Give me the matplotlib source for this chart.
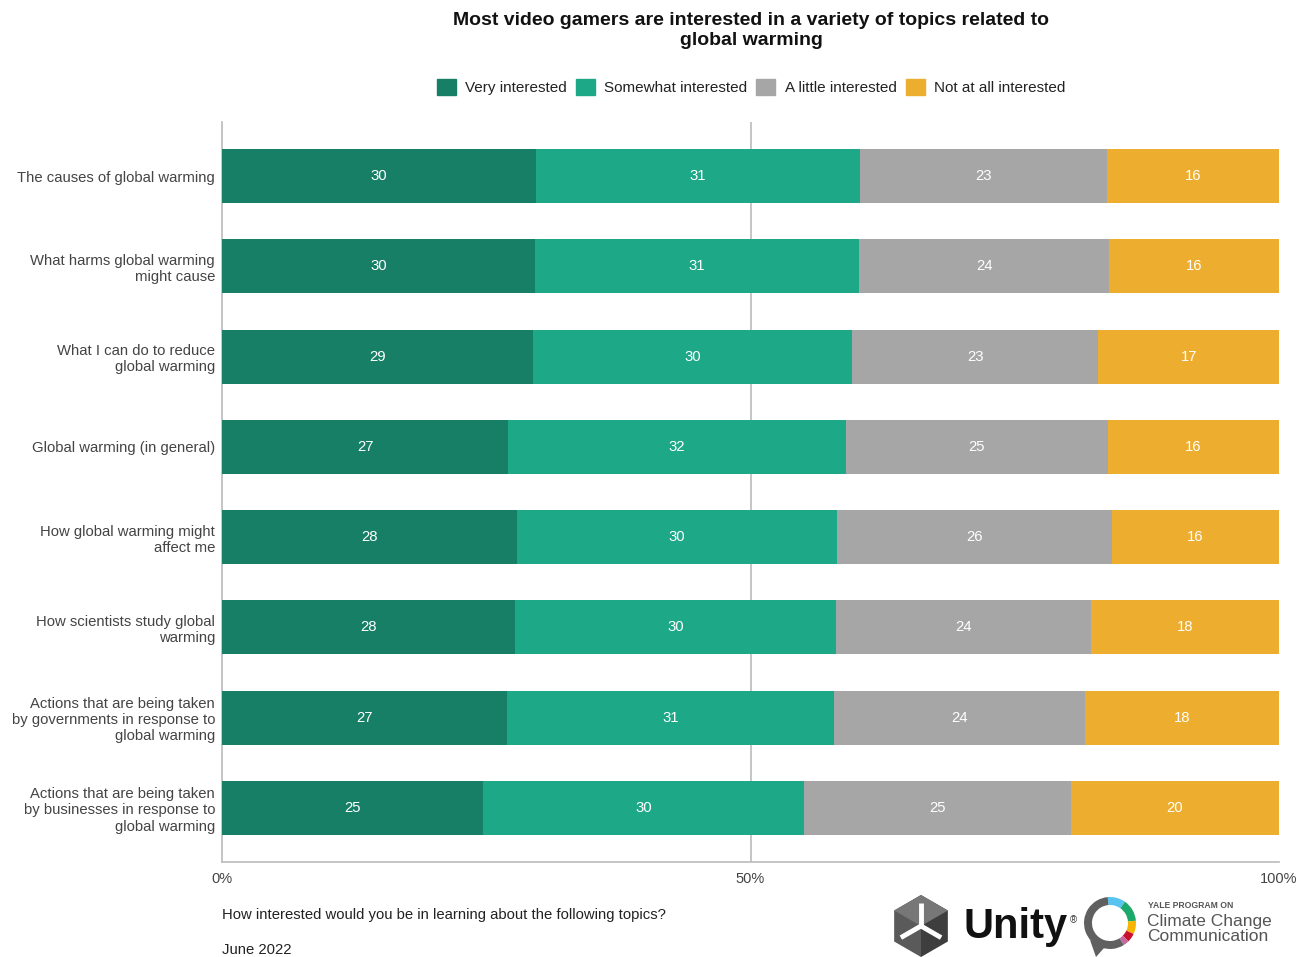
import matplotlib
matplotlib.use("Agg")
import matplotlib.pyplot as plt
from matplotlib.patches import Wedge, Polygon
import numpy as np

plt.rcParams['font.family'] = ['Liberation Sans', 'DejaVu Sans']

categories = [
    "The causes of global warming",
    "What harms global warming\nmight cause",
    "What I can do to reduce\nglobal warming",
    "Global warming (in general)",
    "How global warming might\naffect me",
    "How scientists study global\nwarming",
    "Actions that are being taken\nby governments in response to\nglobal warming",
    "Actions that are being taken\nby businesses in response to\nglobal warming",
]
series_names = ["Very interested", "Somewhat interested", "A little interested", "Not at all interested"]
# shares (%); printed labels are the rounded values
very = [29.7, 29.6, 29.4, 27.1, 27.9, 27.7, 27.0, 24.7]
somewhat = [30.7, 30.7, 30.2, 31.9, 30.3, 30.4, 30.9, 30.4]
little = [23.3, 23.6, 23.3, 24.8, 26.0, 24.1, 23.7, 25.2]
notatall = [16.3, 16.1, 17.1, 16.2, 15.8, 17.8, 18.4, 19.7]
colors = ["#177F66", "#1DA888", "#A6A6A6", "#EDAD2F"]
x_ticks = [0, 50, 100]
x_tick_labels = ["0%", "50%", "100%"]

data = np.array([very, somewhat, little, notatall], dtype=float)
totals = data.sum(axis=0)
shares = data / totals * 100

fig = plt.figure(figsize=(13.01, 9.57), dpi=100)
ax = fig.add_axes([222/1301, 1-862/957, (1279-222)/1301, (862-122)/957])

y = np.arange(len(categories))
left = np.zeros(len(categories))
for i, name in enumerate(series_names):
    ax.barh(y, shares[i], left=left, height=0.6, color=colors[i], label=name, zorder=3)
    for j in range(len(categories)):
        ax.text(left[j] + shares[i][j] / 2, y[j], f"{int(round(data[i][j]))}", ha='center', va='center',
                color='white', fontsize=10.7, zorder=4)
    left += shares[i]

ax.set_xlim(0, 100)
ax.set_ylim(len(categories) - 0.4, -0.6)
ax.set_yticks(y)
ax.set_yticklabels(categories, fontsize=10.7, color='#444444')
ax.set_xticks(x_ticks)
ax.set_xticklabels(x_tick_labels, fontsize=10.5, color='#444444')
ax.tick_params(axis='y', length=0, pad=5)
ax.tick_params(axis='x', length=0, pad=7)
ax.axvline(50, color='#BBBBBB', lw=1.2, zorder=1)
for s in ['top', 'right']:
    ax.spines[s].set_visible(False)
for s in ['left', 'bottom']:
    ax.spines[s].set_color('#BBBBBB')
    ax.spines[s].set_linewidth(1.2)

fig.text(751/1301, 1-30.5/957, "Most video gamers are interested in a variety of topics related to\nglobal warming",
         ha='center', va='center', fontsize=14, fontweight='bold', color='#111111', linespacing=1.2)

handles = [plt.Rectangle((0, 0), 1, 1, color=c) for c in colors]
fig.legend(handles, series_names, loc='center', bbox_to_anchor=(751/1301, 1-87/957), ncol=4,
           frameon=False, fontsize=11, handlelength=1.25, handleheight=1.25, columnspacing=0.6,
           handletextpad=0.6, labelcolor='#222222')

fig.text(222/1301, 1-915/957, "How interested would you be in learning about the following topics?",
         ha='left', va='center', fontsize=10.7, color='#222222')
fig.text(222/1301, 1-950/957, "June 2022", ha='left', va='center', fontsize=10.7, color='#222222')

# ---- logos (decorative approximations) ----
lax = fig.add_axes([880/1301, 0, 420/1301, 80/957])
lax.set_xlim(880, 1300)
lax.set_ylim(0, 80)
lax.axis('off')

def P(xp, yp):
    return (xp, 957 - yp)

# Unity cube
cx, cy, r = 921, 926, 31
verts = [P(cx + r*np.cos(np.radians(a)), cy - r*np.sin(np.radians(a))) for a in [90, 30, -30, -90, -150, 150]]
center = P(cx, cy)
lax.add_patch(Polygon([center, verts[0], verts[5], verts[4], verts[3]], closed=True, color='#5a5a5a', lw=0))
lax.add_patch(Polygon([center, verts[0], verts[1], verts[2], verts[3]], closed=True, color='#3e3e3e', lw=0))
lax.add_patch(Polygon([center, verts[5], verts[0], verts[1]], closed=True, color='#777777', lw=0))
for a in [90, -30, -150]:
    ex, ey = P(cx + r*0.75*np.cos(np.radians(a)), cy - r*0.75*np.sin(np.radians(a)))
    lax.plot([center[0], ex], [center[1], ey], color='white', lw=3.5, solid_capstyle='butt')
lax.text(963, 957-927, "Unity", ha='left', va='center', fontsize=30, fontweight='bold', color='#111111')
lax.text(1070, 957-920, "\u00ae", ha='left', va='center', fontsize=7, color='#333333')

# Yale speech ring
rc = P(1110, 923)
ro, w = 26, 8
segs = [(55, 95, '#56C4EE'), (5, 55, '#1BAA6B'), (-25, 5, '#F8B500'), (-45, -25, '#C8102E'),
        (-58, -45, '#C26AA0'), (95, 302, '#606060')]
for t1, t2, c in segs:
    lax.add_patch(Wedge(rc, ro, t1, t2, width=w, color=c, lw=0))
lax.add_patch(Polygon([P(1090, 940), P(1104, 948), P(1096, 957)], closed=True, color='#606060', lw=0))

lax.text(1148, 957-905, "YALE PROGRAM ON", ha='left', va='center', fontsize=6.2, fontweight='bold', color='#555555')
lax.text(1147, 957-929, "Climate Change\nCommunication", ha='left', va='center', fontsize=12.5,
         color='#555555', linespacing=0.95)

fig.savefig("out.png", dpi=100)
